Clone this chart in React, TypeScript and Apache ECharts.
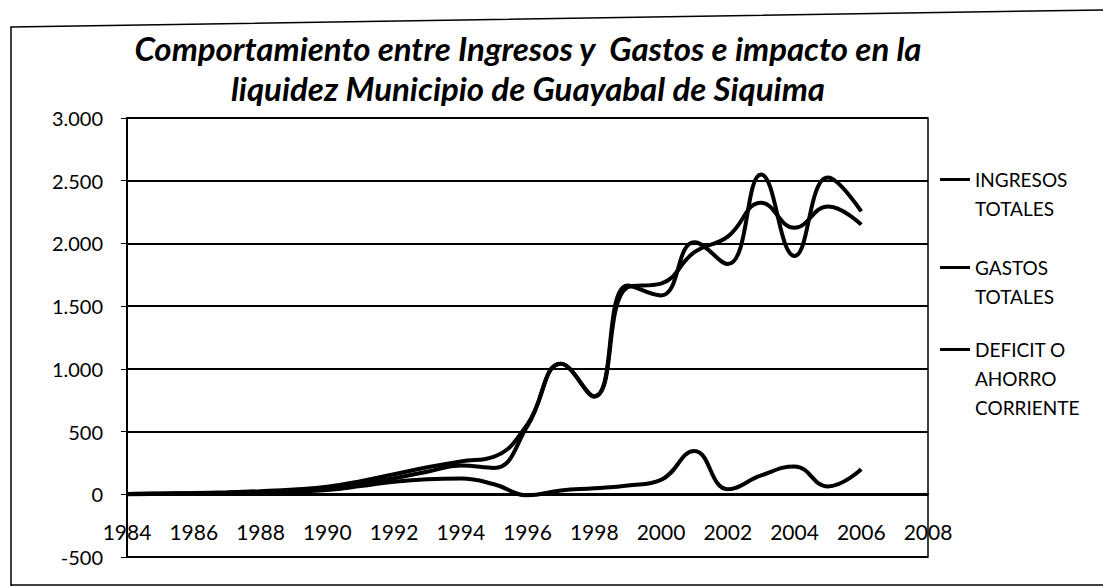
import React, { useEffect, useRef } from "react";
import * as echarts from "echarts";

const years = [1984, 1985, 1986, 1987, 1988, 1989, 1990, 1991, 1992, 1993, 1994, 1995, 1996, 1997, 1998, 1999, 2000, 2001, 2002, 2003, 2004, 2005, 2006];
const ingresosTotales = [3, 6, 10, 16, 25, 38, 60, 105, 160, 215, 262, 300, 560, 1040, 780, 1665, 1585, 2010, 1835, 2550, 1900, 2525, 2255];
const gastosTotales = [2, 5, 8, 12, 18, 28, 45, 85, 128, 180, 230, 210, 545, 1040, 780, 1650, 1680, 1930, 2055, 2325, 2125, 2295, 2150];
const deficitAhorro = [0, 2, 5, 8, 14, 22, 35, 65, 100, 120, 125, 80, -8, 30, 48, 70, 115, 345, 40, 150, 222, 63, 200];

const seriesNames = ["INGRESOS TOTALES", "GASTOS TOTALES", "DEFICIT O AHORRO CORRIENTE"];
const legendLabels = ["\nINGRESOS\nTOTALES", "\nGASTOS\nTOTALES", "\n\nDEFICIT O\nAHORRO\nCORRIENTE"];
const titleText = "Comportamiento entre Ingresos y  Gastos e impacto en la\nliquidez Municipio de Guayabal de Siquima";

const Y_MIN = -500;
const Y_MAX = 3000;

const fmtThousands = (v: number) => {
  const s = String(Math.abs(v)).replace(/\B(?=(\d{3})+(?!\d))/g, ".");
  return (v < 0 ? "-" : "") + s;
};

export default function App() {
  const ref = useRef<HTMLDivElement>(null);
  useEffect(() => {
    if (!ref.current) return;
    const chart = echarts.init(ref.current, null, { renderer: "svg" });
    const toPairs = (arr: number[]) => years.map((y, i) => [y, arr[i]]);
    const lineSeries = (name: string, arr: number[]) => ({
      name,
      type: "line",
      data: toPairs(arr),
      smooth: 0.45,
      showSymbol: false,
      lineStyle: { color: "#000", width: 4 },
      itemStyle: { color: "#000" },
    });
    const gridTop = 118;
    const gridBottom = 29;
    const gridHeight = 586 - gridTop - gridBottom;
    // place the x axis (and its labels) on the zero line
    const zeroOffset = -Math.round((gridHeight * (0 - Y_MIN)) / (Y_MAX - Y_MIN));
    const legendTops = [136, 224, 277];
    const legendCfg = seriesNames.map((n, i) => ({
      data: [n],
      left: 940,
      top: legendTops[i],
      orient: "vertical",
      padding: 0,
      icon: "rect",
      itemWidth: 30,
      itemHeight: 3,
      selectedMode: false,
      formatter: () => legendLabels[i],
      textStyle: { fontFamily: "Lato", fontSize: 19, lineHeight: 29, color: "#000" },
    }));
    chart.setOption({
      animation: false,
      backgroundColor: "#fff",
      title: {
        text: titleText,
        left: 528,
        textAlign: "center",
        top: 28,
        padding: 0,
        textStyle: {
          fontFamily: "Lato",
          fontStyle: "italic",
          fontWeight: "bold",
          fontSize: 33,
          lineHeight: 40,
          color: "#000",
        },
      },
      legend: legendCfg,
      grid: {
        left: 127,
        right: 175,
        top: gridTop,
        bottom: gridBottom,
        show: true,
        borderColor: "#000",
        borderWidth: 1.5,
        containLabel: false,
        outerBoundsMode: "none",
      },
      xAxis: {
        type: "value",
        min: 1984,
        max: 2008,
        interval: 2,
        position: "bottom",
        offset: zeroOffset,
        axisLine: { show: true, onZero: false, lineStyle: { color: "#000", width: 2 } },
        axisTick: { show: false },
        splitLine: { show: false },
        axisLabel: {
          fontFamily: "Lato",
          fontSize: 21,
          color: "#000",
          margin: 27,
          formatter: (v: number) => String(v),
        },
      },
      yAxis: {
        type: "value",
        min: Y_MIN,
        max: Y_MAX,
        interval: 500,
        axisLine: { show: true, lineStyle: { color: "#000", width: 2 } },
        axisTick: { show: true, length: 6, lineStyle: { color: "#000" } },
        splitLine: { show: true, lineStyle: { color: "#000", width: 2 } },
        axisLabel: {
          fontFamily: "Lato",
          fontSize: 20,
          color: "#000",
          margin: 24,
          formatter: (v: number) => fmtThousands(v),
        },
      },
      graphic: [
        {
          type: "polyline",
          shape: { points: [[11, 586], [11, 27], [1103, 10]] },
          style: { stroke: "#000", lineWidth: 1.5, fill: null },
          silent: true,
        },
        {
          type: "line",
          shape: { x1: 11, y1: 585, x2: 1103, y2: 585 },
          style: { stroke: "#000", lineWidth: 1.5 },
          silent: true,
        },
      ],
      series: [
        lineSeries(seriesNames[0], ingresosTotales),
        lineSeries(seriesNames[1], gastosTotales),
        lineSeries(seriesNames[2], deficitAhorro),
      ],
    });
    return () => chart.dispose();
  }, []);
  return (
    <div
      ref={ref}
      style={{ position: "fixed", left: 0, top: 0, width: 1103, height: 586, background: "#fff" }}
    />
  );
}
